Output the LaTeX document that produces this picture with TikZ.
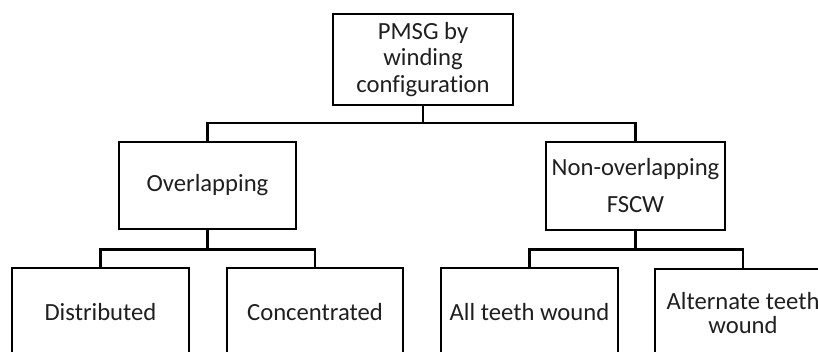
\documentclass[tikz,border=0pt]{standalone}
\usepackage{fontspec}
\setmainfont[Ligatures={NoCommon}]{Carlito}
\begin{document}
\begin{tikzpicture}[x=0.75pt,y=-0.75pt,
  box/.style={draw=black,line width=1.6pt,rectangle,inner sep=0pt,align=center,
    text=black!88,minimum height=66pt},
  link/.style={draw=black,line width=1.6pt}]
\clip (0,0) rectangle (818,352);
\node[box,minimum width=135pt,minimum height=68.25pt,font=\fontsize{18.5}{20}\selectfont] (top) at (423,59.5) {PMSG by\\winding\\configuration};
\node[box,minimum width=132.75pt,minimum height=65.25pt,font=\fontsize{18.5}{20}\selectfont] (ov) at (207.5,185.5) {Overlapping};
\node[box,minimum width=134.25pt,font=\fontsize{18.5}{27.75}\selectfont] (nov) at (635.5,186) {Non-overlapping\\FSCW};
\node[box,minimum width=132.75pt,font=\fontsize{18.5}{20}\selectfont] (dist) at (100.5,312) {Distributed};
\node[box,minimum width=132pt,font=\fontsize{18.5}{20}\selectfont] (conc) at (315,312) {Concentrated};
\node[box,minimum width=132.75pt,font=\fontsize{18.5}{20}\selectfont] (all) at (529.5,312) {All teeth wound};
\node[box,minimum width=132pt,font=\fontsize{18.5}{17.5}\selectfont] (alt) at (743,313) {Alternate teeth\\wound};
\coordinate (bus1) at (423,123);
\coordinate (bus2) at (207.5,249.5);
\coordinate (bus3) at (635.5,249.5);
\draw[link] (top.south) -- (bus1);
\draw[link] (ov.north) |- (bus1) -| (nov.north);
\draw[link] (ov.south) -- (bus2);
\draw[link] (dist.north) |- (bus2) -| (conc.north);
\draw[link] (nov.south) -- (bus3);
\draw[link] (all.north) |- (bus3) -| (alt.north);
\end{tikzpicture}
\end{document}
